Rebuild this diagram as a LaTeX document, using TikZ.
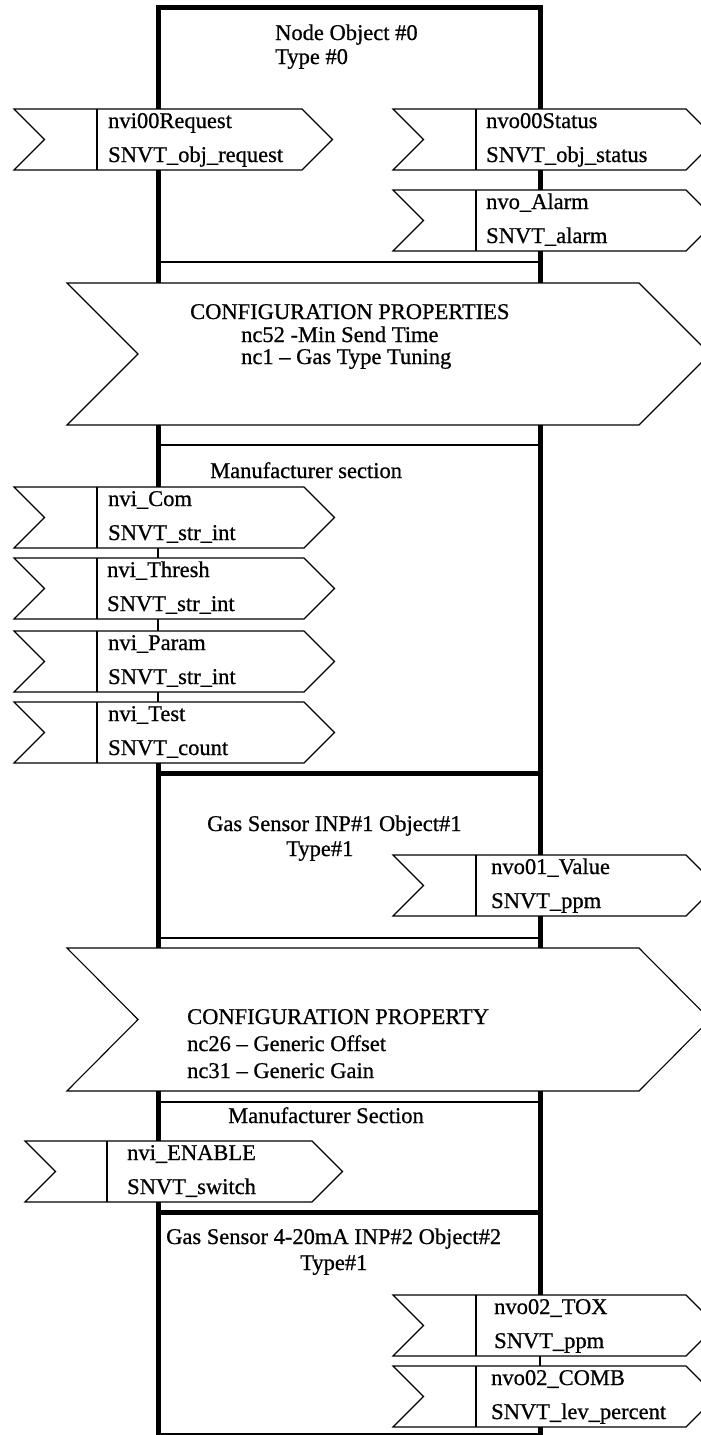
\documentclass[tikz,border=0pt]{standalone}
\usepackage{fontspec}
\setmainfont{Liberation Serif}[BoldFont=Liberation Serif, BoldFeatures={FakeBold=0.7}]
\tikzset{
  bus/.style={line width=5pt, line cap=butt},
  wire/.style={line width=1.1pt},
  outline/.style={line width=1.1pt, line join=miter},
  lbl/.style={anchor=base west, inner sep=0pt, font=\fontsize{22.5}{27}\selectfont\bfseries},
}
% #1 name, #2 left x, #3 divider x, #4 right x, #5 top y, #6 text x, #7 bus x, #8 line 1, #9 line 2
\newcommand\sigbox[9]{%
  \draw[outline] (#2,#5) -- (#4,#5) -- ++(30.5,30.5) -- ++(-30.5,30.5) -- (#2,#5+61) -- ++(30.5,-30.5) -- cycle;
  \draw[outline] (#3,#5) -- (#3,#5+61);
  \node[lbl] (#1-1) at (#6,#5+19) {#8};
  \node[lbl] (#1-2) at (#6,#5+53) {#9};
  \coordinate (#1-t) at (#7,#5);
  \coordinate (#1-b) at (#7,#5+61);
}
\begin{document}
\begin{tikzpicture}[x=1pt,y=-1pt]
\useasboundingbox (0,0) rectangle (701,1435);
\fill[white] (0,0) rectangle (701,1435);
\clip (0,0) rectangle (701,1435);

% ---------- Node object #0 ----------
\coordinate (topL) at (158,7);
\coordinate (topR) at (540,7);
\node[lbl] (t0a) at (275,40) {Node Object \#0};
\node[lbl] (t0b) at (275,64) {Type \#0};

\sigbox{req}{14}{97}{302}{109}{108}{158}{nvi00Request}{SNVT\_obj\_request}
\sigbox{stat}{393}{476}{686}{109}{486}{540}{nvo00Status}{SNVT\_obj\_status}
\sigbox{alarm}{393}{476}{686}{190}{486}{540}{nvo\_Alarm}{SNVT\_alarm}

\coordinate (h1l) at (158,262); \coordinate (h1r) at (540,262);
\draw[wire] (h1l) -- (h1r);

% ---------- configuration block A ----------
\draw[outline] (67,283) -- (639,283) -- (710,354) -- (639,425) -- (67,425) -- (138,354) -- cycle;
\coordinate (cfgA-tl) at (158,283); \coordinate (cfgA-tr) at (540,283);
\coordinate (cfgA-bl) at (158,425); \coordinate (cfgA-br) at (540,425);
\node[lbl] (ca1) at (190,319) {CONFIGURATION PROPERTIES};
\node[lbl] (ca2) at (241,342) {nc52 -Min Send Time};
\node[lbl] (ca3) at (241,364) {nc1 – Gas Type Tuning};

\draw[bus] (req-t) -- (topL) -- (topR) -- (stat-t);
\draw[bus] (req-b) -- (cfgA-tl);
\draw[bus] (stat-b) -- (alarm-t);
\draw[bus] (alarm-b) -- (cfgA-tr);

% ---------- manufacturer section A ----------
\coordinate (h2l) at (158,445); \coordinate (h2r) at (540,445);
\draw[wire] (h2l) -- (h2r);
\node[lbl] (ms1) at (210,478) {Manufacturer section};

\sigbox{com}{14}{97}{304}{487}{108}{158}{nvi\_Com}{SNVT\_str\_int}
\sigbox{thresh}{14}{97}{304}{558}{107}{158}{nvi\_Thresh}{SNVT\_str\_int}
\sigbox{param}{14}{97}{304}{631}{108}{158}{nvi\_Param}{SNVT\_str\_int}
\sigbox{test}{14}{97}{304}{702}{108}{158}{nvi\_Test}{SNVT\_count}

\draw[bus] (cfgA-bl) -- (com-t);
\draw[wire] (com-b) -- (thresh-t);
\draw[wire] (thresh-b) -- (param-t);
\draw[wire] (param-b) -- (test-t);

% ---------- gas sensor INP#1 ----------
\coordinate (k1l) at (158,773); \coordinate (k1r) at (540,773);
\draw[bus] (k1l) -- (k1r);
\node[lbl] (g1a) at (207,831) {Gas Sensor INP\#1 Object\#1};
\node[lbl] (g1b) at (286,856) {Type\#1};

\sigbox{val}{393}{476}{686}{855}{491}{540}{nvo01\_Value}{SNVT\_ppm}

\draw[bus] (cfgA-br) -- (val-t);

\coordinate (h3l) at (158,938); \coordinate (h3r) at (540,938);
\draw[wire] (h3l) -- (h3r);

% ---------- configuration block B ----------
\draw[outline] (67,948) -- (639,948) -- (710,1019.5) -- (639,1091) -- (67,1091) -- (138,1019.5) -- cycle;
\coordinate (cfgB-tl) at (158,948); \coordinate (cfgB-tr) at (540,948);
\coordinate (cfgB-bl) at (158,1091); \coordinate (cfgB-br) at (540,1091);
\node[lbl] (cb1) at (187,1024) {CONFIGURATION PROPERTY};
\node[lbl] (cb2) at (187,1051) {nc26 – Generic Offset};
\node[lbl] (cb3) at (187,1078) {nc31 – Generic Gain};

\draw[bus] (test-b) -- (cfgB-tl);
\draw[bus] (val-b) -- (cfgB-tr);

% ---------- manufacturer section B ----------
\coordinate (h4l) at (158,1102); \coordinate (h4r) at (540,1102);
\draw[wire] (h4l) -- (h4r);
\node[lbl] (ms2) at (228,1123) {Manufacturer Section};

\sigbox{en}{25}{107}{312}{1141}{127}{158}{nvi\_ENABLE}{SNVT\_switch}
\draw[bus] (cfgB-bl) -- (en-t);

% ---------- gas sensor INP#2 ----------
\coordinate (k2l) at (158,1212); \coordinate (k2r) at (540,1212);
\draw[bus] (k2l) -- (k2r);
\node[lbl] (g2a) at (166,1244) {Gas Sensor 4-20mA INP\#2 Object\#2};
\node[lbl] (g2b) at (300,1270) {Type\#1};

\sigbox{tox}{393}{476}{686}{1295}{494}{540}{nvo02\_TOX}{SNVT\_ppm}
\sigbox{comb}{393}{476}{686}{1366}{491}{540}{nvo02\_COMB}{SNVT\_lev\_percent}

\coordinate (botL) at (158,1445); \coordinate (botR) at (540,1445);
\draw[bus] (cfgB-br) -- (tox-t);
\draw[bus] (en-b) -- (botL);
\draw[wire] (tox-b) -- (comb-t);
\draw[bus] (comb-b) -- (botR);

\coordinate (h5l) at (158,1434); \coordinate (h5r) at (540,1434);
\draw[wire] (h5l) -- (h5r);
\end{tikzpicture}
\end{document}
